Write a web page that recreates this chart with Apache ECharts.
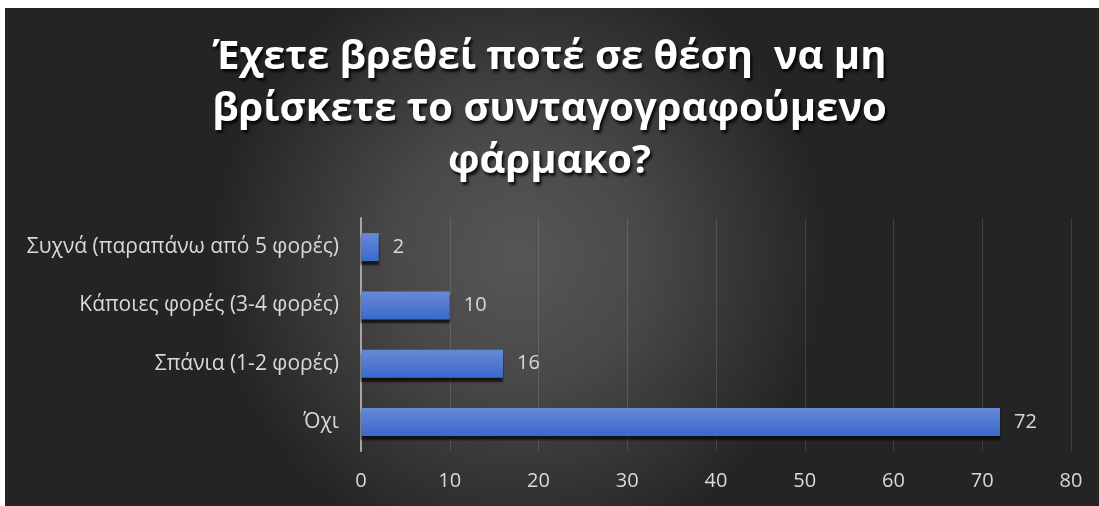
<!DOCTYPE html>
<html>
<head>
<meta charset="utf-8">
<script src="https://cdn.jsdelivr.net/npm/echarts@6/dist/echarts.min.js"></script>
<style>
html,body{margin:0;padding:0;background:#fff;}
#c{width:1099px;height:506px;}
</style>
</head>
<body>
<div id="c"></div>
<script>
const titleLines = ['Έχετε βρεθεί ποτέ σε θέση  να μη', 'βρίσκετε το συνταγογραφούμενο', 'φάρμακο?'];
const categories = ['Συχνά (παραπάνω από 5 φορές)', 'Κάποιες φορές (3-4 φορές)', 'Σπάνια (1-2 φορές)', 'Όχι'];
const values = [2, 10, 16, 72];
const xTicks = {min: 0, max: 80, interval: 10};

const chart = echarts.init(document.getElementById('c'));
const font = '"Open Sans", "Noto Sans", sans-serif';
chart.setOption({
  animation: false,
  graphic: [{
    type: 'rect', z: -10, silent: true,
    shape: {x: 5, y: 8, width: 1094, height: 498},
    style: {
      fill: new echarts.graphic.RadialGradient(0.47, 0.5, 0.62, [
        {offset: 0, color: '#565656'},
        {offset: 0.4, color: '#494949'},
        {offset: 1, color: '#242424'}
      ])
    }
  }],
  title: {
    text: titleLines.join('\n'),
    left: 'center',
    top: 27,
    textStyle: {
      color: '#ffffff',
      fontFamily: font,
      fontWeight: 'bold',
      fontSize: 40,
      lineHeight: 52,
      textShadowColor: 'rgba(0,0,0,0.85)',
      textShadowBlur: 3,
      textShadowOffsetX: 2,
      textShadowOffsetY: 3
    }
  },
  grid: {left: 361, right: 28, top: 218, bottom: 55, containLabel: false},
  xAxis: {
    type: 'value',
    min: xTicks.min, max: xTicks.max, interval: xTicks.interval,
    axisLine: {show: false},
    axisTick: {show: false},
    splitLine: {lineStyle: {color: 'rgba(255,255,255,0.13)', width: 1}},
    axisLabel: {color: '#d9d9d9', fontSize: 20, fontFamily: font, margin: 20}
  },
  yAxis: {
    type: 'category',
    inverse: true,
    data: categories,
    axisLine: {show: true, lineStyle: {color: '#a6a6a6', width: 2}},
    axisTick: {show: false},
    axisLabel: {color: '#d9d9d9', fontSize: 21, fontFamily: font, margin: 22}
  },
  series: [{
    type: 'bar',
    data: values,
    barWidth: 28,
    itemStyle: {
      color: new echarts.graphic.LinearGradient(0, 0, 0, 1, [
        {offset: 0, color: '#6789d6'},
        {offset: 1, color: '#3a69cb'}
      ]),
      shadowColor: 'rgba(0,0,0,0.7)',
      shadowBlur: 2,
      shadowOffsetX: 0,
      shadowOffsetY: 4
    },
    label: {
      show: true, position: 'right', distance: 14,
      color: '#d9d9d9', fontSize: 20, fontFamily: font
    }
  }]
});
</script>
</body>
</html>
